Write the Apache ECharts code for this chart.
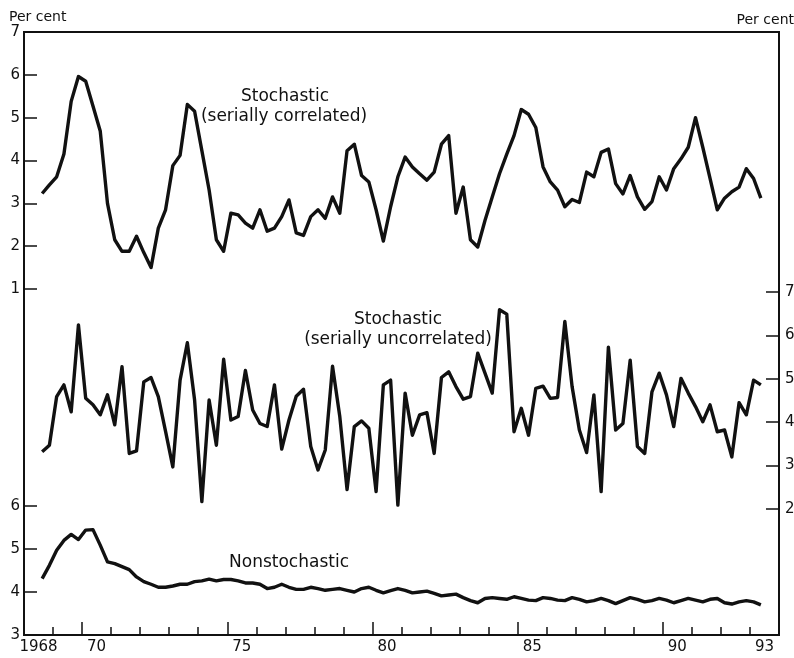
<!DOCTYPE html>
<html>
<head>
<meta charset="utf-8">
<script src="https://cdn.jsdelivr.net/npm/echarts@6/dist/echarts.min.js"></script>
<style>
html,body{margin:0;padding:0;background:#fff;}
#chart{width:794px;height:658px;}
</style>
</head>
<body>
<div id="chart"></div>
<script>
// Quarterly observations, 1968 Q3 to 1993 Q2
const firstYear = 1968, firstQuarter = 3, nQuarters = 100;

const correlated = [
  3.23, 3.43, 3.62, 4.15, 5.38, 5.96, 5.85, 5.27, 4.69, 3.00,
  2.15, 1.88, 1.88, 2.23, 1.85, 1.50, 2.42, 2.85, 3.88, 4.12,
  5.31, 5.15, 4.23, 3.31, 2.15, 1.88, 2.77, 2.73, 2.54, 2.42,
  2.85, 2.35, 2.42, 2.69, 3.08, 2.31, 2.25, 2.69, 2.85, 2.65,
  3.15, 2.77, 4.23, 4.38, 3.65, 3.50, 2.85, 2.12, 2.92, 3.62,
  4.08, 3.85, 3.69, 3.54, 3.73, 4.38, 4.58, 2.77, 3.38, 2.15,
  1.98, 2.60, 3.15, 3.69, 4.15, 4.58, 5.19, 5.08, 4.77, 3.85,
  3.50, 3.31, 2.92, 3.09, 3.02, 3.73, 3.62, 4.19, 4.27, 3.46,
  3.22, 3.65, 3.15, 2.86, 3.04, 3.62, 3.31, 3.81, 4.04, 4.31,
  5.00, 4.31, 3.58, 2.85, 3.12, 3.27, 3.38, 3.81, 3.58, 3.12
];

const uncorrelated = [
  3.32, 3.47, 4.59, 4.86, 4.24, 6.24, 4.55, 4.40, 4.17, 4.63,
  3.94, 5.28, 3.28, 3.34, 4.93, 5.03, 4.59, 3.79, 2.97, 4.97,
  5.83, 4.51, 2.17, 4.51, 3.47, 5.45, 4.05, 4.13, 5.19, 4.28,
  3.97, 3.90, 4.86, 3.38, 4.05, 4.60, 4.76, 3.44, 2.90, 3.36,
  5.29, 4.13, 2.45, 3.90, 4.03, 3.86, 2.40, 4.86, 4.97, 2.09,
  4.67, 3.70, 4.17, 4.22, 3.28, 5.03, 5.16, 4.82, 4.53, 4.59,
  5.59, 5.13, 4.67, 6.59, 6.49, 3.78, 4.32, 3.70, 4.78, 4.83,
  4.55, 4.57, 6.32, 4.82, 3.82, 3.30, 4.63, 2.40, 5.73, 3.82,
  3.97, 5.43, 3.44, 3.28, 4.70, 5.13, 4.63, 3.90, 5.01, 4.67,
  4.36, 4.01, 4.40, 3.78, 3.82, 3.20, 4.45, 4.17, 4.97, 4.86
];

const nonstochastic = [
  4.31, 4.62, 4.97, 5.20, 5.34, 5.22, 5.44, 5.45, 5.09, 4.70,
  4.66, 4.59, 4.52, 4.35, 4.24, 4.18, 4.11, 4.11, 4.14, 4.18,
  4.18, 4.24, 4.26, 4.30, 4.26, 4.29, 4.29, 4.26, 4.21, 4.21,
  4.18, 4.08, 4.11, 4.18, 4.11, 4.06, 4.06, 4.11, 4.08, 4.04,
  4.06, 4.08, 4.04, 4.00, 4.08, 4.11, 4.04, 3.98, 4.03, 4.08,
  4.04, 3.98, 4.00, 4.02, 3.97, 3.91, 3.93, 3.95, 3.87, 3.80,
  3.75, 3.85, 3.87, 3.85, 3.83, 3.89, 3.85, 3.81, 3.80, 3.87,
  3.85, 3.81, 3.80, 3.87, 3.83, 3.77, 3.80, 3.85, 3.80, 3.73,
  3.80, 3.87, 3.83, 3.77, 3.80, 3.85, 3.81, 3.75, 3.80, 3.85,
  3.81, 3.77, 3.83, 3.85, 3.75, 3.72, 3.77, 3.80, 3.77, 3.70
];

// x-axis tick labels (placed at mid-year), major and minor year ticks
const labelYears = [1968, 1970, 1975, 1980, 1985, 1990, 1993];
const labelTexts = ['1968', '70', '75', '80', '85', '90', '93'];
const majorTickYears = [1970, 1975, 1980, 1985, 1990];
const minorTickYears = [];
for (let y = 1969; y <= 1993; y++) if (majorTickYears.indexOf(y) < 0) minorTickYears.push(y);

// quarter positions
const quarterX = [];
for (let k = 0; k < nQuarters; k++) {
  const idx = (firstQuarter - 1) + k;
  const yr = firstYear + Math.floor(idx / 4);
  const q = idx % 4 + 1;
  quarterX.push(yr + (q - 0.5) / 4);
}
const pairs = arr => arr.map((v, i) => [quarterX[i], v]);

const FONT = 'DejaVu Sans';
const INK = '#111';
const L = 24, R = 15;

const hiddenX = (gi) => ({
  type: 'value', gridIndex: gi, min: 1968, max: 1994, show: false
});

const yAx = (gi, min, max, pos) => ({
  type: 'value', gridIndex: gi, min: min, max: max, interval: 1, position: pos,
  axisLine: { show: false },
  axisTick: { show: true, inside: true, length: 13, lineStyle: { color: INK, width: 1.5 } },
  axisLabel: { show: true, margin: pos === 'left' ? 4 : 6, color: INK, fontFamily: FONT, fontSize: 15 },
  splitLine: { show: false }
});

const lineSeries = (name, gi, data) => ({
  name: name, type: 'line', xAxisIndex: gi, yAxisIndex: gi,
  data: data, showSymbol: false, symbol: 'none', animation: false,
  lineStyle: { color: INK, width: 3.4, join: 'round' }, silent: true
});

const gridBase = { left: L, right: R, containLabel: false, outerBoundsMode: 'none' };

const option = {
  backgroundColor: '#fff',
  animation: false,
  grid: [
    Object.assign({}, gridBase, { top: 32, height: 257 }),
    Object.assign({}, gridBase, { top: 292, height: 217 }),
    Object.assign({}, gridBase, { top: 506, height: 129 }),
    Object.assign({}, gridBase, { top: 32, bottom: 23, show: true, borderColor: INK, borderWidth: 2, backgroundColor: 'transparent' })
  ],
  xAxis: [
    hiddenX(0),
    hiddenX(1),
    {
      type: 'value', gridIndex: 2, min: 1968, max: 1994, position: 'bottom',
      axisLine: { show: false },
      axisTick: { show: true, inside: true, length: 8, customValues: minorTickYears, lineStyle: { color: INK, width: 1.5 } },
      axisLabel: { show: false },
      splitLine: { show: false }
    },
    {
      type: 'value', gridIndex: 3, min: 1968, max: 1994, position: 'bottom',
      axisLine: { show: false },
      axisTick: { show: true, inside: true, length: 13, customValues: majorTickYears, lineStyle: { color: INK, width: 1.5 } },
      axisLabel: {
        show: true, margin: 5, color: INK, fontFamily: FONT, fontSize: 15,
        customValues: labelYears.map(y => y + 0.5),
        formatter: v => { const i = labelYears.indexOf(Math.round(v - 0.5)); return i >= 0 ? labelTexts[i] : ''; }
      },
      splitLine: { show: false }
    }
  ],
  yAxis: [
    yAx(0, 1, 7, 'left'),
    yAx(1, 2, 7, 'right'),
    yAx(2, 3, 6, 'left'),
    { type: 'value', gridIndex: 3, show: false, min: 0, max: 1 }
  ],
  series: [
    lineSeries('Stochastic (serially correlated)', 0, pairs(correlated)),
    lineSeries('Stochastic (serially uncorrelated)', 1, pairs(uncorrelated)),
    lineSeries('Nonstochastic', 2, pairs(nonstochastic))
  ],
  graphic: [
    { type: 'text', x: 9, y: 17, style: { text: 'Per cent', fontFamily: FONT, fontSize: 14, fill: INK, align: 'left', verticalAlign: 'middle' } },
    { type: 'text', x: 794, y: 20, style: { text: 'Per cent', fontFamily: FONT, fontSize: 14, fill: INK, align: 'right', verticalAlign: 'middle' } },
    { type: 'text', x: 285, y: 97, style: { text: 'Stochastic', fontFamily: FONT, fontSize: 17, fill: INK, align: 'center', verticalAlign: 'middle' } },
    { type: 'text', x: 284, y: 117, style: { text: '(serially correlated)', fontFamily: FONT, fontSize: 17, fill: INK, align: 'center', verticalAlign: 'middle' } },
    { type: 'text', x: 398, y: 320, style: { text: 'Stochastic', fontFamily: FONT, fontSize: 17, fill: INK, align: 'center', verticalAlign: 'middle' } },
    { type: 'text', x: 398, y: 340, style: { text: '(serially uncorrelated)', fontFamily: FONT, fontSize: 17, fill: INK, align: 'center', verticalAlign: 'middle' } },
    { type: 'text', x: 289, y: 563, style: { text: 'Nonstochastic', fontFamily: FONT, fontSize: 17, fill: INK, align: 'center', verticalAlign: 'middle' } }
  ]
};

const chart = echarts.init(document.getElementById('chart'), null, { renderer: 'canvas' });
chart.setOption(option);
</script>
</body>
</html>
